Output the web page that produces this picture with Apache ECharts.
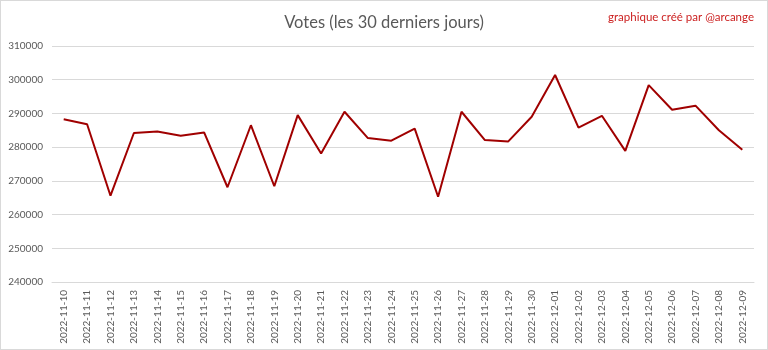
<!DOCTYPE html>
<html>
<head>
<meta charset="utf-8">
<script src="https://cdn.jsdelivr.net/npm/echarts@6/dist/echarts.min.js"></script>
<style>
html,body{margin:0;padding:0;background:#fff;}
#wrap{position:absolute;left:0;top:0;width:766px;height:348px;border:1px solid #d9d9d9;}
#chart{width:766px;height:348px;}
</style>
</head>
<body>
<div id="wrap"><div id="chart"></div></div>
<script>
const categories = ["2022-11-10","2022-11-11","2022-11-12","2022-11-13","2022-11-14","2022-11-15","2022-11-16","2022-11-17","2022-11-18","2022-11-19","2022-11-20","2022-11-21","2022-11-22","2022-11-23","2022-11-24","2022-11-25","2022-11-26","2022-11-27","2022-11-28","2022-11-29","2022-11-30","2022-12-01","2022-12-02","2022-12-03","2022-12-04","2022-12-05","2022-12-06","2022-12-07","2022-12-08","2022-12-09"];
const votes = [288300,286800,265600,284200,284650,283400,284350,268100,286500,268400,289500,278100,290500,282700,281900,285500,265300,290500,282100,281700,289000,301400,285800,289300,278900,298400,291100,292300,285000,279200];
const titleText = "Votes (les 30 derniers jours)";
const creditText = "graphique créé par @arcange";

const chart = echarts.init(document.getElementById('chart'), null, {renderer:'canvas'});
chart.setOption({
  animation:false,
  backgroundColor:'#fff',
  textStyle:{fontFamily:'Lato'},
  title:[
    {text:titleText,left:'center',top:8,textStyle:{fontFamily:'Lato',fontSize:16.5,fontWeight:'normal',color:'#595959'}},
    {text:creditText,right:8,top:5,textStyle:{fontFamily:'Lato',fontSize:11.5,fontWeight:'normal',color:'#cc2222'}}
  ],
  grid:{left:51,right:13,top:45,bottom:67,containLabel:false},
  xAxis:{
    type:'category',data:categories,boundaryGap:true,
    axisLine:{show:true,lineStyle:{color:'#d9d9d9'}},
    axisTick:{show:false},
    axisLabel:{rotate:90,interval:0,fontSize:10,color:'#595959',fontFamily:'Lato',margin:8}
  },
  yAxis:{
    type:'value',min:240000,max:310000,interval:10000,
    axisLine:{show:false},axisTick:{show:false},
    splitLine:{lineStyle:{color:'#d9d9d9'}},
    axisLabel:{fontSize:10,color:'#595959',fontFamily:'Lato',margin:9,formatter:function(v){return String(v);}}
  },
  series:[{type:'line',data:votes,symbol:'none',lineStyle:{color:'#a00000',width:2},itemStyle:{color:'#a00000'}}]
});
</script>
</body>
</html>
